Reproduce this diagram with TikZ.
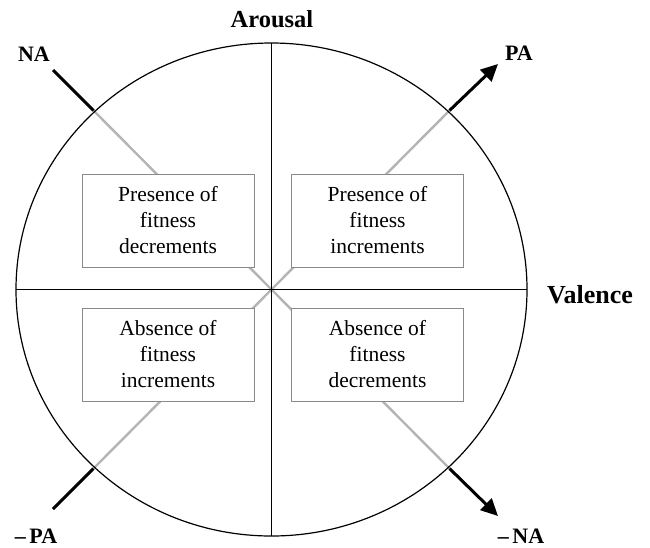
\documentclass[tikz,border=0pt]{standalone}
\usepackage{fontspec}
\setmainfont{Liberation Serif}
\usetikzlibrary{arrows.meta}
\definecolor{lgray}{HTML}{B4B4B4}
\definecolor{bgray}{HTML}{8A8A8A}
\tikzset{
  fbox/.style={draw=bgray, line width=1pt, fill=white, minimum width=172pt, minimum height=93pt,
    inner sep=0pt, align=center, font=\fontsize{21.5}{26}\selectfont},
  glink/.style={draw=lgray, line width=2.4pt},
  blink/.style={draw=black, line width=3pt},
  axis/.style={draw=black, line width=1.2pt},
  bl/.style={font=\bfseries\fontsize{22}{26}\selectfont, inner sep=0pt, anchor=base},
  tip/.style={-{Triangle[length=17pt,width=16pt]}}
}
\begin{document}
\begin{tikzpicture}[x=1pt,y=-1pt]
\useasboundingbox (0,0) rectangle (650,547);
% coordinates
\coordinate (c) at (271.5,289.5);
\coordinate (top) at (271.5,43);
\coordinate (bot) at (271.5,536);
\coordinate (left) at (16,289.5);
\coordinate (right) at (527,289.5);
\coordinate (tl) at (93.5,110.5);
\coordinate (tr) at (449.5,110.5);
\coordinate (bll) at (93.5,468.5);
\coordinate (brr) at (449.5,468.5);
\coordinate (tlo) at (53,70);
\coordinate (tro) at (498,64);
\coordinate (blo) at (53,509);
\coordinate (bro) at (498,516);
% gray links behind boxes
\draw[glink] (tl) -- (c);
\draw[glink] (tr) -- (c);
\draw[glink] (bll) -- (c);
\draw[glink] (brr) -- (c);
% boxes
\node[fbox] (ptl) at (168,220.5) {Presence of\\fitness\\decrements};
\node[fbox] (ptr) at (377.5,220.5) {Presence of\\fitness\\increments};
\node[fbox] (abl) at (168,354.5) {Absence of\\fitness\\increments};
\node[fbox] (abr) at (377.5,354.5) {Absence of\\fitness\\decrements};
% circle and axes
\draw[axis] (c) ellipse [x radius=255.5pt, y radius=246.5pt];
\draw[axis] (top) -- (bot);
\draw[axis] (left) -- (right);
% black outer segments
\draw[blink] (tl) -- (tlo);
\draw[blink] (bll) -- (blo);
\draw[blink, tip] (tr) -- (tro);
\draw[blink, tip] (brr) -- (bro);
% labels
\node[bl, font=\bfseries\fontsize{24.5}{28}\selectfont] (arousal) at (272,27) {Arousal};
\node[bl, font=\bfseries\fontsize{26}{30}\selectfont] (valence) at (590,303) {Valence};
\node[bl] (na) at (34,61) {NA};
\node[bl] (pa) at (519,60) {PA};
\node[bl] (mpa) at (36,543.5) {–\,PA};
\node[bl] (mna) at (521,543.5) {–\,NA};
\end{tikzpicture}
\end{document}
